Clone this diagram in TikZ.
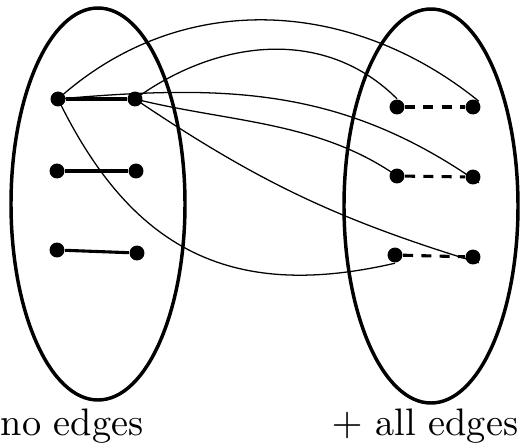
\documentclass[tikz,border=0pt]{standalone}
\begin{document}
\begin{tikzpicture}[x=0.274pt,y=0.274pt,
  dot/.style={circle,fill=black,inner sep=0pt,minimum size=4.1pt},
  blob/.style={draw,line width=0.95pt},
  solidedge/.style={line width=0.85pt},
  dashededge/.style={line width=0.85pt,dash pattern=on 2.7pt off 2.3pt},
  link/.style={line width=0.35pt},
  lbl/.style={inner sep=0pt,font=\fontsize{10.5}{12}\selectfont}]
\useasboundingbox (0,0) rectangle (520,-443);
% ellipses
\draw[blob] (98,-204) ellipse [x radius=87, y radius=196];
\draw[blob] (431,-206) ellipse [x radius=87, y radius=197];
% left vertices
\node[dot] (L1) at (58,-99) {};
\node[dot] (L2) at (135,-99) {};
\node[dot] (L3) at (57,-171) {};
\node[dot] (L4) at (136,-171) {};
\node[dot] (L5) at (57,-250) {};
\node[dot] (L6) at (137,-253) {};
% right vertices
\node[dot] (R1) at (397,-107) {};
\node[dot] (R2) at (473,-107) {};
\node[dot] (R3) at (397,-176) {};
\node[dot] (R4) at (473,-177) {};
\node[dot] (R5) at (395,-255) {};
\node[dot] (R6) at (473,-257) {};
% edges
\draw[solidedge] (L1) -- (L2);
\draw[solidedge] (L3) -- (L4);
\draw[solidedge] (L5) -- (L6);
\draw[dashededge] (R1) -- (R2);
\draw[dashededge] (R3) -- (R4);
\draw[dashededge] (R5) -- (R6);
% links
\draw[link] (L1.center) to[out=42,in=141] (R2.north east);
\draw[link] (L2.center) to[out=36,in=135] (R1.north);
\draw[link] (L1.center) to[out=5,in=145] (R4.south east);
\draw[link] (L2.center) to[out=-14,in=145,looseness=0.9] (R3.center);
\draw[link] (L2.center) to[out=-34,in=163] (R6.south east);
\draw[link] (L1.center) to[out=-64,in=193,looseness=1.15] (R5.south);
% labels
\node[lbl,anchor=base west] (t1) at (0,-435) {no edges};
\node[lbl,anchor=base east] (t2) at (519,-435) {$+$ all edges};
\end{tikzpicture}
\end{document}
